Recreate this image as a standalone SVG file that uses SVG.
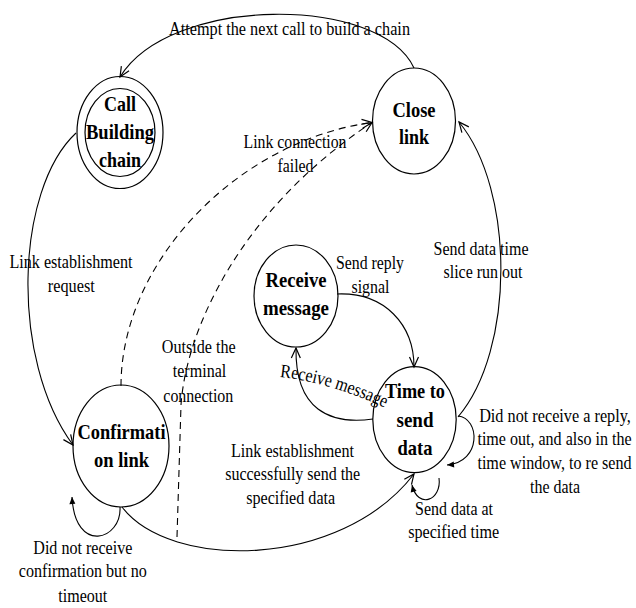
<svg xmlns="http://www.w3.org/2000/svg" width="636" height="608" viewBox="0 0 636 608">
<style>
.node{fill:none;stroke:#000;stroke-width:1.2}
.nt{font-family:"Liberation Serif","Times New Roman",serif;font-weight:bold;font-size:22px;text-anchor:middle;fill:#000}
.lt{font-family:"Liberation Serif","Times New Roman",serif;font-size:19px;text-anchor:middle;fill:#000}
.c{fill:none;stroke:#000;stroke-width:1.1}
.d{stroke-dasharray:7 5}
</style>
<defs>
<marker id="open" markerWidth="14" markerHeight="12" refX="12" refY="6" orient="auto" markerUnits="userSpaceOnUse">
<path d="M2,1.5 L12,6 L2,10.5" fill="none" stroke="#000" stroke-width="1.2"/>
</marker>
<marker id="fill" markerWidth="9" markerHeight="8" refX="8" refY="4" orient="auto" markerUnits="userSpaceOnUse">
<path d="M1,1 L8,4 L1,7 z" fill="#000"/>
</marker>
<path id="rmPath" d="M 280 377 Q 330 382 392 411"/>
</defs>

<g id="connectors">
<path class="c" d="M 414 68 C 380 -5, 170 -5, 120 77" marker-end="url(#open)"/>
<path class="c" d="M 76 133 C 15 190, 10 360, 73 445" marker-end="url(#open)"/>
<path class="c d" d="M 121 386 C 121 260, 240 140, 372 122.5" marker-end="url(#open)"/>
<path class="c d" d="M 177 537 L 181 405 C 186 330, 240 210, 372 122.5" marker-end="url(#open)"/>
<path class="c" d="M 458 417 C 515 350, 515 190, 459 122" marker-end="url(#open)"/>
<path class="c" d="M 337 294 C 385 292, 414 325, 414 367" marker-end="url(#open)"/>
<path class="c" d="M 373 419 C 330 425, 295 410, 296 348" marker-end="url(#open)"/>
<path class="c" d="M 122 507 C 170 570, 340 570, 414 474" marker-end="url(#open)"/>
<path class="c" d="M 458 416 C 480 418, 482 462, 447 465" marker-end="url(#fill)"/>
<path class="c" d="M 439 478 C 442 500, 418 510, 412 485" marker-end="url(#fill)"/>
<path class="c" d="M 120 507 C 122 540, 75 555, 72 497" marker-end="url(#fill)"/>
</g>

<g id="labels">
<text class="lt" x="289.5" y="34.5" textLength="241" lengthAdjust="spacingAndGlyphs">Attempt the next call to build a chain</text>
<text class="lt" x="295" y="148.3" textLength="103" lengthAdjust="spacingAndGlyphs">Link connection</text>
<text class="lt" x="295.5" y="171.7" textLength="36" lengthAdjust="spacingAndGlyphs">failed</text>
<text class="lt" x="71" y="268.3" textLength="123" lengthAdjust="spacingAndGlyphs">Link establishment</text>
<text class="lt" x="71.3" y="292" textLength="47" lengthAdjust="spacingAndGlyphs">request</text>
<text class="lt" x="370" y="269.3" textLength="68" lengthAdjust="spacingAndGlyphs">Send reply</text>
<text class="lt" x="370.5" y="293.3" textLength="38" lengthAdjust="spacingAndGlyphs">signal</text>
<text class="lt" x="481" y="255" textLength="95" lengthAdjust="spacingAndGlyphs">Send data time</text>
<text class="lt" x="483" y="278.3" textLength="79" lengthAdjust="spacingAndGlyphs">slice run out</text>
<text class="lt" x="198.8" y="352.7" textLength="74" lengthAdjust="spacingAndGlyphs">Outside the</text>
<text class="lt" x="199.5" y="376.7" textLength="53.5" lengthAdjust="spacingAndGlyphs">terminal</text>
<text class="lt" x="198.3" y="401.7" textLength="70" lengthAdjust="spacingAndGlyphs">connection</text>
<text class="lt" style="text-anchor:start"><textPath href="#rmPath" textLength="110" lengthAdjust="spacingAndGlyphs">Receive message</textPath></text>
<text class="lt" x="292.5" y="456.7" textLength="123" lengthAdjust="spacingAndGlyphs">Link establishment</text>
<text class="lt" x="292.7" y="480" textLength="135" lengthAdjust="spacingAndGlyphs">successfully send the</text>
<text class="lt" x="290.7" y="504" textLength="89" lengthAdjust="spacingAndGlyphs">specified data</text>
<g transform="translate(554.5 0) scale(0.82 1)">
<text class="lt" x="0.6" y="421.7" textLength="185" lengthAdjust="spacingAndGlyphs">Did not receive a reply,</text>
<text class="lt" x="0" y="445" textLength="188" lengthAdjust="spacingAndGlyphs">time out, and also in the</text>
<text class="lt" x="0" y="469.3" textLength="188" lengthAdjust="spacingAndGlyphs">time window, to re send</text>
<text class="lt" x="0.6" y="493.3" textLength="61" lengthAdjust="spacingAndGlyphs">the data</text>
</g>
<text class="lt" x="454" y="515" textLength="78" lengthAdjust="spacingAndGlyphs">Send data at</text>
<text class="lt" x="453.7" y="538.3" textLength="91" lengthAdjust="spacingAndGlyphs">specified time</text>
<text class="lt" x="82.8" y="554.3" textLength="99" lengthAdjust="spacingAndGlyphs">Did not receive</text>
<text class="lt" x="82.8" y="577.3" textLength="128" lengthAdjust="spacingAndGlyphs">confirmation but no</text>
<text class="lt" x="82.8" y="601.7" textLength="49" lengthAdjust="spacingAndGlyphs">timeout</text>
</g>

<g id="call-building-chain">
<ellipse class="node" cx="120" cy="132.5" rx="43" ry="56"/>
<ellipse class="node" cx="120" cy="132.5" rx="35" ry="44"/>
<text class="nt" x="120" y="111" textLength="32" lengthAdjust="spacingAndGlyphs">Call</text>
<text class="nt" x="120" y="139" textLength="68" lengthAdjust="spacingAndGlyphs">Building</text>
<text class="nt" x="120" y="167" textLength="42" lengthAdjust="spacingAndGlyphs">chain</text>
</g>

<g id="close-link">
<ellipse class="node" cx="414" cy="121" rx="41.5" ry="53"/>
<text class="nt" x="414" y="116.5" textLength="43" lengthAdjust="spacingAndGlyphs">Close</text>
<text class="nt" x="414" y="143.5" textLength="30" lengthAdjust="spacingAndGlyphs">link</text>
</g>

<g id="receive-message">
<ellipse class="node" cx="296" cy="296" rx="42" ry="51"/>
<text class="nt" x="296" y="286.5" textLength="61" lengthAdjust="spacingAndGlyphs">Receive</text>
<text class="nt" x="296" y="315" textLength="66" lengthAdjust="spacingAndGlyphs">message</text>
</g>

<g id="time-to-send-data">
<ellipse class="node" cx="414.5" cy="419.6" rx="41.7" ry="53"/>
<text class="nt" x="415" y="398" textLength="60" lengthAdjust="spacingAndGlyphs">Time to</text>
<text class="nt" x="415" y="426.5" textLength="37" lengthAdjust="spacingAndGlyphs">send</text>
<text class="nt" x="415" y="455" textLength="35" lengthAdjust="spacingAndGlyphs">data</text>
</g>

<g id="confirmation-link">
<ellipse class="node" cx="121" cy="446" rx="48" ry="61"/>
<text class="nt" x="121.5" y="439" textLength="88" lengthAdjust="spacingAndGlyphs">Confirmati</text>
<text class="nt" x="121.5" y="466.5" textLength="55" lengthAdjust="spacingAndGlyphs">on link</text>
</g>
</svg>
